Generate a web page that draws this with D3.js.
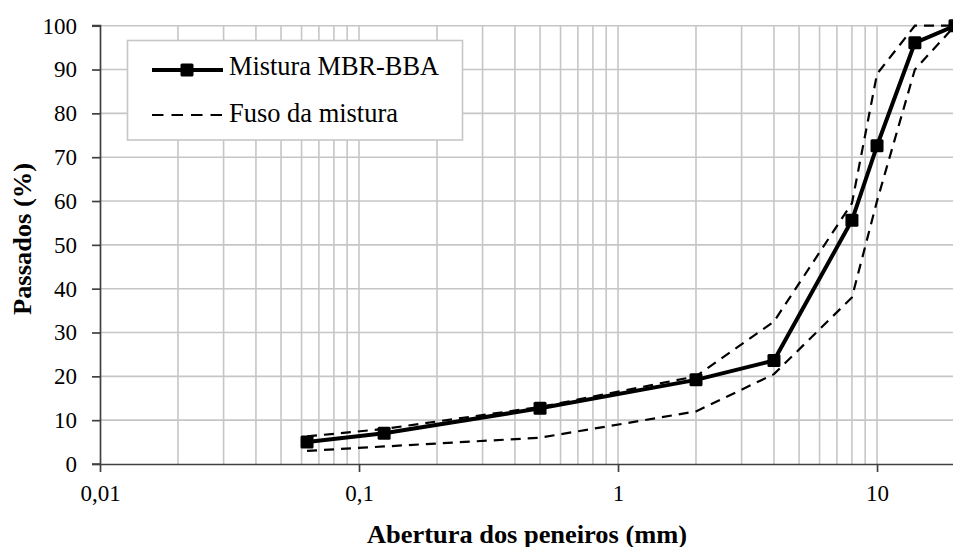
<!DOCTYPE html>
<html>
<head>
<meta charset="utf-8">
<script src="https://cdn.jsdelivr.net/npm/d3@7/dist/d3.min.js"></script>
<style>
  html, body { margin: 0; padding: 0; background: #fff; }
  svg { display: block; }
  svg text { font-family: "Liberation Serif", "Times New Roman", Tinos, "DejaVu Serif", serif !important; fill: #000; }
</style>
</head>
<body>
<svg id="chart" width="953" height="547"></svg>
<script>
// Sieve openings (mm)
const sieves = [0.063, 0.125, 0.5, 2, 4, 8, 10, 14, 20];
// Mistura MBR-BBA (% passing)
const mistura = [5, 7, 12.7, 19.2, 23.6, 55.6, 72.6, 96.1, 100];
// Fuso da mistura - upper limit
const fusoSup = [6.3, 8, 13, 20, 32.5, 59.5, 89, 100, 100];
// Fuso da mistura - lower limit
const fusoInf = [3, 4, 6, 12, 20.5, 38, 60, 90, 100];

const xTicks = [0.01, 0.1, 1, 10];
const yTicks = [0, 10, 20, 30, 40, 50, 60, 70, 80, 90, 100];
const seriesNames = ["Mistura MBR-BBA", "Fuso da mistura"];
const xTitle = "Abertura dos peneiros (mm)";
const yTitle = "Passados (%)";

const svg = d3.select("#chart");
const pL = 100, pR = 955, pT = 25.7, pB = 464;

const x = d3.scaleLog().domain([0.01, 20]).range([pL, pR]);
const y = d3.scaleLinear().domain([0, 100]).range([pB, pT]);

const fmt = d => String(d).replace(".", ",");
const gridCol = "#c6c6c6", axisCol = "#404040";

// minor vertical gridlines
const minor = [];
for (let dec = 0.01; dec < 20; dec *= 10) {
  for (let k = 1; k <= 9; k++) {
    const v = +(dec * k).toPrecision(3);
    if (v > 0.01 && v <= 20) minor.push(v);
  }
}
svg.append("g").selectAll("line").data(minor).join("line")
  .attr("x1", d => x(d)).attr("x2", d => x(d))
  .attr("y1", y(0)).attr("y2", y(100))
  .attr("stroke", gridCol).attr("stroke-width", 1.6);

// horizontal gridlines
svg.append("g").selectAll("line").data(yTicks.filter(d => d > 0)).join("line")
  .attr("x1", pL).attr("x2", 953)
  .attr("y1", d => y(d)).attr("y2", d => y(d))
  .attr("stroke", gridCol).attr("stroke-width", 1.6);

// axes
const xAxis = d3.axisBottom(x).tickValues(xTicks).tickFormat(fmt).tickSize(8).tickPadding(13);
const gx = svg.append("g").attr("transform", `translate(0,${pB})`).call(xAxis);
gx.attr("font-family", null);
gx.select(".domain").attr("stroke", axisCol).attr("stroke-width", 1.7).attr("d", `M${pL},0.5H953`);
gx.selectAll(".tick line").attr("stroke", axisCol).attr("stroke-width", 1.7);
gx.selectAll(".tick text").attr("font-size", 23).attr("fill", "#000");

const yAxis = d3.axisLeft(y).tickValues(yTicks).tickSize(8).tickPadding(15);
const gy = svg.append("g").attr("transform", `translate(${pL},0)`).call(yAxis);
gy.attr("font-family", null);
gy.select(".domain").attr("stroke", axisCol).attr("stroke-width", 1.7).attr("d", `M-8,${pT}H0.5V${pB}H-8`);
gy.selectAll(".tick line").attr("stroke", axisCol).attr("stroke-width", 1.7);
gy.selectAll(".tick text").attr("font-size", 23).attr("fill", "#000");

// lines
const line = d3.line().x(d => x(d[0])).y(d => y(d[1]));
const plot = svg.append("g");
[fusoSup, fusoInf].forEach(arr => {
  plot.append("path").datum(sieves.map((s, i) => [s, arr[i]]))
    .attr("d", line).attr("fill", "none").attr("stroke", "#000")
    .attr("stroke-width", 2.2).attr("stroke-dasharray", "10,7");
});
plot.append("path").datum(sieves.map((s, i) => [s, mistura[i]]))
  .attr("d", line).attr("fill", "none").attr("stroke", "#000")
  .attr("stroke-width", 4).attr("stroke-linejoin", "round");
const ms = 13;
plot.selectAll("rect.m").data(sieves.map((s, i) => [s, mistura[i]])).join("rect")
  .attr("class", "m")
  .attr("x", d => x(d[0]) - ms / 2).attr("y", d => y(d[1]) - ms / 2)
  .attr("width", ms).attr("height", ms).attr("rx", 1.5).attr("fill", "#000");

// legend
const lg = svg.append("g");
lg.append("rect").attr("x", 127.5).attr("y", 40.5).attr("width", 335).attr("height", 99.5)
  .attr("fill", "#fff").attr("stroke", gridCol).attr("stroke-width", 1.6);
lg.append("line").attr("x1", 152).attr("x2", 223).attr("y1", 70).attr("y2", 70)
  .attr("stroke", "#000").attr("stroke-width", 4);
lg.append("rect").attr("x", 187 - ms / 2).attr("y", 70 - ms / 2).attr("width", ms).attr("height", ms).attr("rx", 1.5).attr("fill", "#000");
lg.append("text").attr("x", 229).attr("y", 75).attr("font-size", 27)
  .attr("textLength", 210).attr("lengthAdjust", "spacingAndGlyphs").text(seriesNames[0]);
lg.append("line").attr("x1", 152).attr("x2", 223).attr("y1", 115).attr("y2", 115)
  .attr("stroke", "#000").attr("stroke-width", 2.2).attr("stroke-dasharray", "11.5,8");
lg.append("text").attr("x", 229).attr("y", 121.5).attr("font-size", 27)
  .attr("textLength", 169).attr("lengthAdjust", "spacingAndGlyphs").text(seriesNames[1]);

// axis titles
svg.append("text").attr("x", 527).attr("y", 543).attr("text-anchor", "middle")
  .attr("font-size", 25).attr("font-weight", "bold")
  .attr("textLength", 320).attr("lengthAdjust", "spacingAndGlyphs").text(xTitle);
svg.append("text").attr("transform", "translate(31,239) rotate(-90)").attr("text-anchor", "middle")
  .attr("font-size", 25).attr("font-weight", "bold")
  .attr("textLength", 152).attr("lengthAdjust", "spacingAndGlyphs").text(yTitle);
</script>
</body>
</html>
